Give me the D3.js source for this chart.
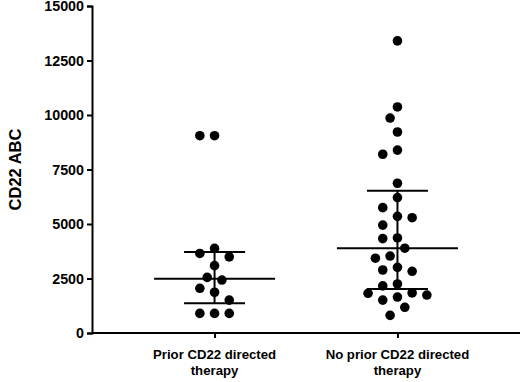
<!DOCTYPE html>
<html>
<head>
<meta charset="utf-8">
<script src="https://cdn.jsdelivr.net/npm/d3@7"></script>
<style>
  body { margin: 0; background: #fff; }
  svg { display: block; font-family: Arial, "Liberation Sans", sans-serif; }
</style>
</head>
<body>
<div id="container"></div>
<script>
// categories and label lines
const categories = ["prior", "noPrior"];
const categoryLabels = [
    ["Prior CD22 directed", "therapy"],
    ["No prior CD22 directed", "therapy"]
];

// CD22 ABC per patient
const priorValues = [9050, 9050, 3880, 3650, 3490, 3090, 2550, 2430, 2050, 1870, 1510, 900, 900, 900];
const noPriorValues = [13400, 10370, 9860, 9220, 8390, 8200, 6870, 6210, 5750, 5350, 5290, 4950,
    4360, 4330, 3890, 3530, 3430, 3010, 2890, 2830, 2250, 2160, 1840, 1820, 1740, 1650, 1510, 1180, 810];

// median and interquartile range
const medians = [2490, 3890];
const q1Values = [1360, 2020];
const q3Values = [3720, 6530];

const yTicks = [0, 2500, 5000, 7500, 10000, 12500, 15000];

const width = 520;
const height = 382;
const margin = {left: 92, top: 6, bottom: 49};

const svg = d3.select("#container").append("svg")
    .attr("width", width)
    .attr("height", height);

const y = d3.scaleLinear()
    .domain([0, 15000])
    .range([height - margin.bottom, margin.top]);

const x = d3.scalePoint()
    .domain(categories)
    .range([margin.left, width])
    .padding(0.67);

// axes
const yAxis = svg.append("g")
    .attr("transform", `translate(${margin.left},0)`)
    .call(d3.axisLeft(y).tickValues(yTicks).tickSize(5).tickPadding(3).tickFormat(d3.format("d")));
const xAxis = svg.append("g")
    .attr("transform", `translate(0,${height - margin.bottom})`)
    .call(d3.axisBottom(x).tickSize(5).tickFormat(""));

[yAxis, xAxis].forEach(g => {
    g.select(".domain").attr("stroke", "#000").attr("stroke-width", 2);
    g.selectAll(".tick line").attr("stroke", "#000").attr("stroke-width", 2);
});
xAxis.select(".domain").attr("d", `M${margin.left},0H${width}`);
yAxis.selectAll(".tick text")
    .attr("font-size", 14.3)
    .attr("font-weight", "bold")
    .attr("font-family", "Arial, 'Liberation Sans', sans-serif")
    .attr("fill", "#000");

// category labels
categories.forEach((c, i) => {
    const t = svg.append("text")
        .attr("text-anchor", "middle")
        .attr("font-size", 13.2)
        .attr("font-weight", "bold");
    categoryLabels[i].forEach((line, j) => {
        t.append("tspan")
            .attr("x", x(c))
            .attr("y", 359 + j * 15.5)
            .text(line);
    });
});

// y title
svg.append("text")
    .attr("transform", `translate(21,${y(7500)}) rotate(-90)`)
    .attr("text-anchor", "middle")
    .attr("font-size", 16.5)
    .attr("font-weight", "bold")
    .text("CD22 ABC");

// simple beeswarm: place highest first, nearest free slot to centre
function swarm(values, cx) {
    const step = 7.35, minD = 12.5;
    const placed = [];
    values.slice().sort((a, b) => b - a).forEach(v => {
        const py = y(v);
        for (let k = 0; k < 20; k++) {
            const offs = k === 0 ? [0] : [-k * step, k * step];
            let ok = null;
            for (const o of offs) {
                const hit = placed.some(p => (p.x - (cx + o)) ** 2 + (p.y - py) ** 2 < minD * minD);
                if (!hit) { ok = o; break; }
            }
            if (ok !== null) { placed.push({x: cx + ok, y: py}); break; }
        }
    });
    return placed;
}

const groupValues = [priorValues, noPriorValues];

categories.forEach((c, i) => {
    const cx = x(c);
    const g = svg.append("g");
    g.selectAll("circle")
        .data(swarm(groupValues[i], cx))
        .join("circle")
        .attr("cx", d => d.x)
        .attr("cy", d => d.y)
        .attr("r", 4.8)
        .attr("fill", "#000");

    const lines = g.append("g").attr("stroke", "#000").attr("stroke-width", 2);
    lines.append("line")
        .attr("x1", cx - 60.5).attr("x2", cx + 60.5)
        .attr("y1", y(medians[i])).attr("y2", y(medians[i]));
    lines.append("line")
        .attr("x1", cx).attr("x2", cx)
        .attr("y1", y(q1Values[i])).attr("y2", y(q3Values[i]));
    [q1Values[i], q3Values[i]].forEach(q => {
        lines.append("line")
            .attr("x1", cx - 30.5).attr("x2", cx + 30.5)
            .attr("y1", y(q)).attr("y2", y(q));
    });
});
</script>
</body>
</html>
